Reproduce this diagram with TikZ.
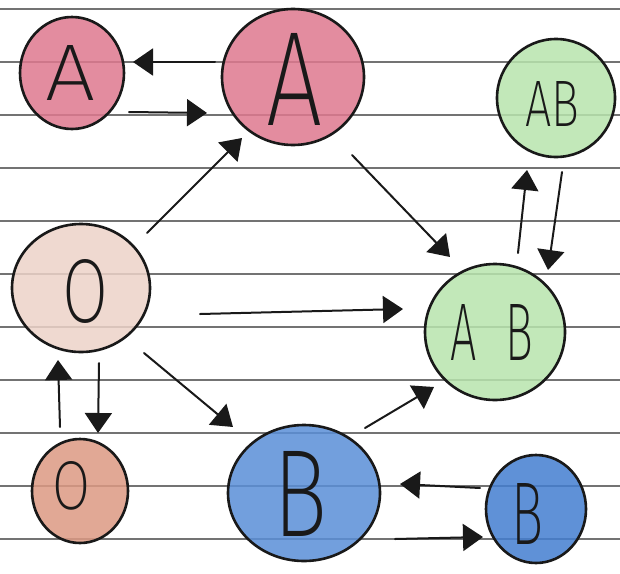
\documentclass[tikz,border=0pt]{standalone}
\usepackage{fontspec}
\usepackage{graphicx}
\usetikzlibrary{arrows.meta,shapes.geometric}
\IfFontExistsTF{Fira Sans ExtraLight}{\newfontfamily\handfont{Fira Sans ExtraLight}}{%
 \IfFontExistsTF{Fira Sans Thin}{\newfontfamily\handfont{Fira Sans Thin}}{%
  \IfFontExistsTF{Lato Thin}{\newfontfamily\handfont{Lato Thin}}{%
   \IfFontExistsTF{Lato Hairline}{\newfontfamily\handfont{Lato Hairline}}{%
    \IfFontExistsTF{Fira Sans Light}{\newfontfamily\handfont{Fira Sans Light}}{%
     \IfFontExistsTF{Lato Light}{\newfontfamily\handfont{Lato Light}}{%
      \IfFontExistsTF{Poppins Thin}{\newfontfamily\handfont{Poppins Thin}}{%
       \IfFontExistsTF{DejaVu Sans ExtraLight}{\newfontfamily\handfont{DejaVu Sans ExtraLight}}{%
        \newfontfamily\handfont{Liberation Sans}}}}}}}}}
\definecolor{rulegray}{RGB}{115,115,115}
\definecolor{redA}{RGB}{223,120,143}
\definecolor{greenAB}{RGB}{184,228,173}
\definecolor{peachO}{RGB}{237,211,200}
\definecolor{brownO}{RGB}{220,153,131}
\definecolor{blueB}{RGB}{90,143,216}
\definecolor{blueBs}{RGB}{67,126,208}
\definecolor{ink}{RGB}{25,25,25}
\tikzset{
  blob/.style={ellipse, draw=ink, line width=2.6pt, inner sep=0pt, fill opacity=0.85, text opacity=1},
  letter/.style={inner sep=0pt, text=ink},
  conn/.style={draw=ink, line width=2pt, line cap=round, -{Triangle[length=20pt,width=27pt]}},
  rule/.style={draw=rulegray, line width=1.2pt}
}
\begin{document}
\begin{tikzpicture}[x=1pt,y=-1pt]
\useasboundingbox (0,0) rectangle (620,573);
\fill[white] (0,0) rectangle (620,573);
% ruled paper
\foreach \k in {0,...,10} {
  \draw[rule] (0,{9+53*\k}) -- (620,{9+53*\k});
}
% circles
\node[blob, fill=redA, minimum width=104pt, minimum height=112pt] (Asmall) at (72,73) {};
\node[blob, fill=redA, minimum width=142pt, minimum height=136pt] (Abig) at (293,77) {};
\node[blob, fill=greenAB, minimum width=118pt, minimum height=118pt] (ABsmall) at (556,98) {};
\node[blob, fill=peachO, minimum width=138pt, minimum height=128pt] (Obig) at (81,288) {};
\node[blob, fill=greenAB, minimum width=140pt, minimum height=136pt] (ABbig) at (495,332) {};
\node[blob, fill=brownO, minimum width=96pt, minimum height=104pt] (Osmall) at (80,491) {};
\node[blob, fill=blueB, minimum width=152pt, minimum height=136pt] (Bbig) at (304,493) {};
\node[blob, fill=blueBs, minimum width=100pt, minimum height=108pt] (Bsmall) at (536,509) {};
% letters
\node[letter] (Asmall-t) at ([shift={(-1,0)}]Asmall) {\resizebox{50pt}{55pt}{\handfont A}};
\node[letter] (Abig-t) at ([shift={(2,2)}]Abig) {\resizebox{56pt}{92pt}{\handfont A}};
\node[letter] (ABsmall-t) at ([shift={(-4,6)}]ABsmall) {\resizebox{54pt}{45pt}{\handfont AB}};
\node[letter] (ABbig-t) at ([shift={(-3,0)}]ABbig) {\resizebox{82pt}{56pt}{\handfont A\kern6pt B}};
\node[letter] (Obig-t) at ([shift={(5,3)}]Obig) {\resizebox{46pt}{63pt}{\handfont O}};
\node[letter] (Osmall-t) at ([shift={(-8,-5)}]Osmall) {\resizebox{38pt}{48pt}{\handfont O}};
\node[letter] (Bbig-t) at ([shift={(-3,1)}]Bbig) {\resizebox{54pt}{85pt}{\handfont B}};
\node[letter] (Bsmall-t) at ([shift={(-9,5)}]Bsmall) {\resizebox{32pt}{61pt}{\handfont B}};
% connectors
\draw[conn] ([shift={(-78,-15)}]Abig.center) -- ([shift={(61,-11)}]Asmall.center);
\draw[conn] ([shift={(57,39)}]Asmall.center) -- ([shift={(-86,36)}]Abig.center);
\draw[conn] ([shift={(66,-55)}]Obig.center) -- ([shift={(-51,61)}]Abig.center);
\draw[conn] ([shift={(59,78)}]Abig.center) -- ([shift={(-45,-75)}]ABbig.center);
\draw[conn] ([shift={(23,-79)}]ABbig.center) -- ([shift={(-29,72)}]ABsmall.center);
\draw[conn] ([shift={(6,74)}]ABsmall.center) -- ([shift={(53,-62)}]ABbig.center);
\draw[conn] ([shift={(119,26)}]Obig.center) -- ([shift={(-92,-23)}]ABbig.center);
\draw[conn] ([shift={(63,65)}]Obig.center) -- ([shift={(-71,-66)}]Bbig.center);
\draw[conn] ([shift={(-20,-64)}]Osmall.center) -- ([shift={(-23,72)}]Obig.center);
\draw[conn] ([shift={(18,75)}]Obig.center) -- ([shift={(18,-58)}]Osmall.center);
\draw[conn] ([shift={(61,-65)}]Bbig.center) -- ([shift={(-61,55)}]ABbig.center);
\draw[conn] ([shift={(-56,-21)}]Bsmall.center) -- ([shift={(96,-9)}]Bbig.center);
\draw[conn] ([shift={(91,46)}]Bbig.center) -- ([shift={(-53,28)}]Bsmall.center);
\end{tikzpicture}
\end{document}
